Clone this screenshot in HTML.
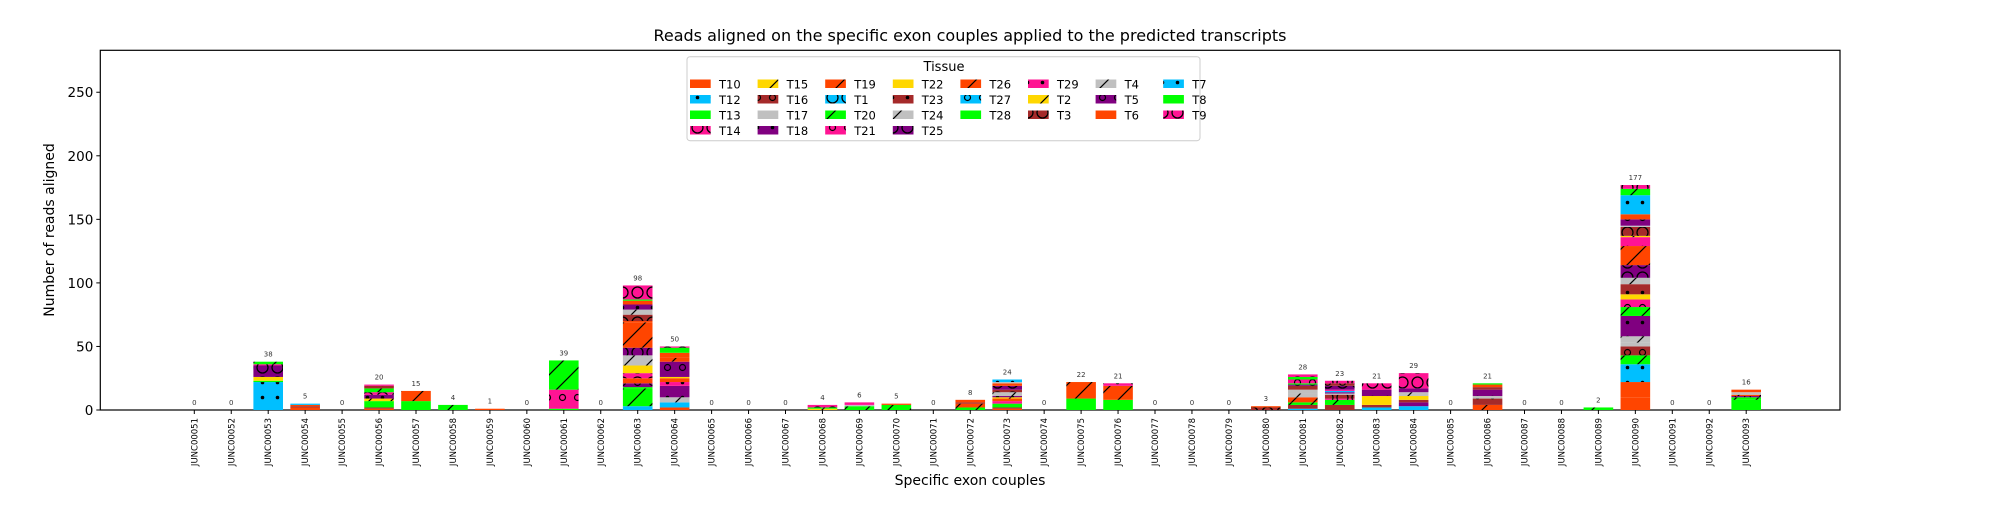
<!DOCTYPE html>
<html><head><meta charset="utf-8"><style>
html,body{margin:0;padding:0;background:#fff;}
svg text{font-family:"DejaVu Sans","Liberation Sans",sans-serif;}
</style></head><body>
<svg id="chart" width="2000" height="500" viewBox="0 0 2000 500" xmlns="http://www.w3.org/2000/svg">
<defs id="defs"></defs>
<text x="970" y="41" font-size="16" text-anchor="middle" fill="#000">Reads aligned on the specific exon couples applied to the predicted transcripts</text>
<g id="plot"></g>
<text x="970" y="485" font-size="14" text-anchor="middle" fill="#000">Specific exon couples</text>
<text transform="translate(54,230) rotate(-90)" font-size="14" text-anchor="middle" fill="#000">Number of reads aligned</text>
</svg>
<script>
const categories = ["JUNC00051","JUNC00052","JUNC00053","JUNC00054","JUNC00055","JUNC00056","JUNC00057","JUNC00058","JUNC00059","JUNC00060","JUNC00061","JUNC00062","JUNC00063","JUNC00064","JUNC00065","JUNC00066","JUNC00067","JUNC00068","JUNC00069","JUNC00070","JUNC00071","JUNC00072","JUNC00073","JUNC00074","JUNC00075","JUNC00076","JUNC00077","JUNC00078","JUNC00079","JUNC00080","JUNC00081","JUNC00082","JUNC00083","JUNC00084","JUNC00085","JUNC00086","JUNC00087","JUNC00088","JUNC00089","JUNC00090","JUNC00091","JUNC00092","JUNC00093"];
const stackTissues = [
 [],[],
 ["T7","T13","T22","T25","T14","T20"],
 ["T10","T23","T6","T12"],
 [],
 ["T10","T23","T13","T2","T18","T14","T20","T16","T29"],
 ["T28","T19"],
 ["T20"],
 ["T10"],
 [],
 ["T13","T21","T20"],
 [],
 ["T12","T20","T13","T5","T6","T14","T22","T24","T25","T26","T10","T3","T4","T18","T10","T13","T9"],
 ["T10","T7","T24","T18","T29","T6","T22","T5","T19","T10","T13","T9"],
 [],[],[],
 ["T2","T20","T14"],
 ["T20","T17","T29"],
 ["T20","T10"],
 [],
 ["T20","T26","T16","T10"],
 ["T10","T23","T13","T21","T6","T2","T18","T24","T3","T25","T10","T17","T7"],
 [],
 ["T28","T26"],
 ["T13","T19","T29"],
 [],[],[],
 ["T3","T10"],
 ["T7","T23","T20","T19","T24","T17","T16","T5","T8","T21","T13","T14"],
 ["T23","T20","T14","T3","T17","T18","T12","T29","T25","T16","T14"],
 ["T12","T23","T22","T18","T9"],
 ["T12","T5","T23","T22","T24","T18","T9"],
 [],
 ["T19","T23","T17","T18","T16","T10","T13"],
 [],[],
 ["T20"],
 ["T10","T6","T12","T20","T16","T17","T24","T18","T20","T21","T22","T23","T4","T25","T26","T29","T2","T3","T17","T5","T6","T7","T20","T9"],
 [],[],
 ["T13","T20","T5","T19","T17","T10"]
];
const stackValues = [
 [],[],
 [22,1,3,9,1,2],
 [2,1,1,1],
 [],
 [1,1,5,2,3,2,3,2,1],
 [7,8],
 [4],
 [1],
 [],
 [1,15,23],
 [],
 [3,14,1,3,4,4,6,8,6,20,1,5,4,4,3,1,11],
 [2,4,4,9,3,3,1,12,3,4,4,1],
 [],[],[],
 [1,1,2],
 [3,1,2],
 [4,1],
 [],
 [2,3,1,2],
 [1,1,3,2,2,1,1,3,2,3,2,1,2],
 [],
 [9,13],
 [8,11,2],
 [],[],[],
 [2,1],
 [1,3,2,4,3,3,3,1,1,3,2,2],
 [4,4,1,3,1,1,1,1,3,2,2],
 [2,2,7,5,5],
 [3,3,2,3,3,3,12],
 [],
 [4,5,2,5,2,2,1],
 [],[],
 [2],
 [10,12,14,7,7,3,5,16,7,6,4,8,5,10,15,7,1,7,1,5,4,15,5,3],
 [],[],
 [8,2,1,1,2,2]
];
const yTicks = [0,50,100,150,200,250];
const legendOrder = ["T10","T12","T13","T14","T15","T16","T17","T18","T19","T1","T20","T21","T22","T23","T24","T25","T26","T27","T28","T29","T2","T3","T4","T5","T6","T7","T8","T9"];
const tissueColor = {T10:"#ff4500",T12:"#00bfff",T13:"#00ff00",T14:"#ff1493",T15:"#ffd700",T16:"#a52a2a",T17:"#c0c0c0",T18:"#800080",T19:"#ff4500",T1:"#00bfff",T20:"#00ff00",T21:"#ff1493",T22:"#ffd700",T23:"#a52a2a",T24:"#c0c0c0",T25:"#800080",T26:"#ff4500",T27:"#00bfff",T28:"#00ff00",T29:"#ff1493",T2:"#ffd700",T3:"#a52a2a",T4:"#c0c0c0",T5:"#800080",T6:"#ff4500",T7:"#00bfff",T8:"#00ff00",T9:"#ff1493"};
const tissueHatch = {T10:"",T12:"dot",T13:"",T14:"O",T15:"/",T16:"o",T17:"",T18:"dot",T19:"/",T1:"O",T20:"/",T21:"o",T22:"",T23:"dot",T24:"/",T25:"O",T26:"/",T27:"o",T28:"",T29:"dot",T2:"/",T3:"O",T4:"/",T5:"o",T6:"",T7:"dot",T8:"",T9:"O"};

const NS="http://www.w3.org/2000/svg";
const L=100.3,R=1840,T=50.3,B=410,YMAX=283;
const X0=194.3,STEP=36.95,BW=29.6;
function xScale(i){return X0+STEP*i;}
function yScale(v){return B-(B-T)*v/YMAX;}
function mk(tag,attrs,parent){const e=document.createElementNS(NS,tag);for(const k in attrs)e.setAttribute(k,attrs[k]);parent.appendChild(e);return e;}

const defs=document.getElementById('defs');
for(const t of legendOrder){
  const h=tissueHatch[t];
  const S=(h==='/')?22:15;
  const p=mk('pattern',{id:'pat-'+t,patternUnits:'userSpaceOnUse',width:S,height:S},defs);
  mk('rect',{x:0,y:0,width:S,height:S,fill:tissueColor[t]},p);
  if(h==='/'){mk('path',{d:'M0,'+S+' L'+S+',0 M-4,4 L4,-4 M'+(S-4)+','+(S+4)+' L'+(S+4)+','+(S-4),stroke:'#000','stroke-width':1.2},p);}
  else if(h==='dot'){mk('circle',{cx:7.5,cy:7.5,r:1.8,fill:'#000'},p);}
  else if(h==='o'){mk('circle',{cx:7.5,cy:7.5,r:3,fill:'none',stroke:'#000','stroke-width':1.2},p);}
  else if(h==='O'){mk('circle',{cx:7.5,cy:7.5,r:5.5,fill:'none',stroke:'#000','stroke-width':1.3},p);}
}

const plot=document.getElementById('plot');
const frame=mk('rect',{x:L,y:T,width:R-L,height:B-T,fill:'none',stroke:'#000','stroke-width':1.2},plot);



for(const v of yTicks){
  const y=yScale(v);
  const tk=mk('line',{x1:L-4,x2:L,y1:y,y2:y,stroke:'#000','stroke-width':1},plot);
  
  
  const tl=mk('text',{x:L-7,y:y+5,'font-size':13.5,'text-anchor':'end',fill:'#000'},plot);
  tl.textContent=v;
  
  
}

categories.forEach((c,i)=>{
  const cx=xScale(i);
  let acc=0;
  const g=mk('g',{},plot);
  
  
  stackTissues[i].forEach((t,j)=>{
    const v=stackValues[i][j];
    const y1=yScale(acc+v),y0=yScale(acc);
    const r=mk('rect',{x:cx-BW/2,y:y1,width:BW,height:y0-y1,fill:'url(#pat-'+t+')'},g);
    
    
    acc+=v;
  });
  const lab=mk('text',{x:cx,y:yScale(acc)-5,'font-size':7,'text-anchor':'middle',fill:'#333'},plot);
  lab.textContent=acc;
  
  
  const tk=mk('line',{x1:cx,x2:cx,y1:B,y2:B+4,stroke:'#000','stroke-width':1},plot);
  
  
  const tl=mk('text',{transform:'translate('+(cx+3)+','+(B+8)+') rotate(-90)','font-size':8.5,'text-anchor':'end',fill:'#000'},plot);
  tl.textContent=c;
  
  
});

// legend
const lg=mk('g',{},plot);


const lbox=mk('rect',{x:687,y:56.7,width:513,height:84,rx:3,fill:'#fff',stroke:'#ccc','stroke-width':1},lg);


const lt=mk('text',{x:944,y:71,'font-size':13,'text-anchor':'middle',fill:'#000'},lg);
lt.textContent='Tissue';


const colCounts=[4,4,4,4,3,3,3,3];
let k=0;
colCounts.forEach((n,c)=>{
  for(let r=0;r<n;r++){
    const t=legendOrder[k++];
    const px=690+67.6*c, py=84+15.5*r;
    const e=mk('g',{},lg);
    
    
    mk('rect',{x:px,y:py-4.5,width:20.7,height:8.5,fill:'url(#pat-'+t+')'},e);
    const tx=mk('text',{x:px+29,y:py+4.5,'font-size':11.5,fill:'#000'},e);
    tx.textContent=t;
  }
});
</script>
</body></html>
